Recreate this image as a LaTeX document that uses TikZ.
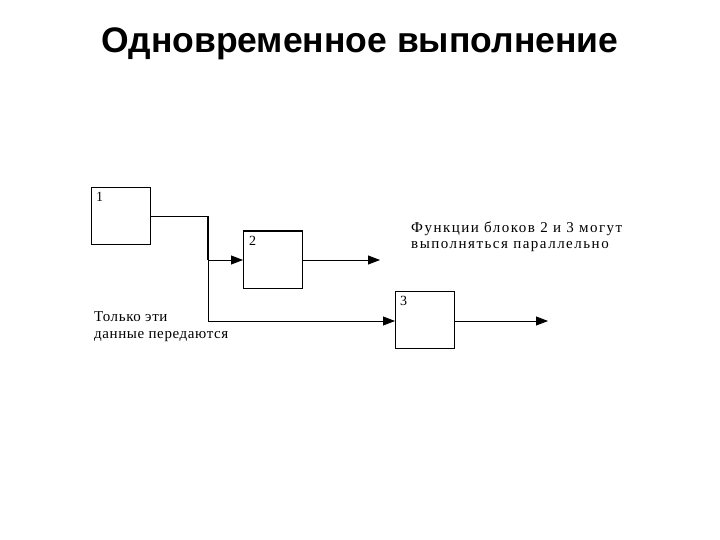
\documentclass[tikz,border=0pt]{standalone}
\usepackage{fontspec}
\setmainfont{Liberation Serif}
\newfontfamily\titlefont{Liberation Sans}
\usetikzlibrary{arrows.meta}
\begin{document}
\begin{tikzpicture}[x=1pt,y=-1pt,
  blk/.style={draw,line width=1pt,minimum width=59pt,minimum height=57pt,anchor=north west,inner sep=0pt},
  num/.style={font=\fontsize{14}{14}\selectfont,anchor=north west,inner sep=0pt},
  lbl/.style={anchor=north west,align=left,inner sep=0pt},
  conn/.style={line width=0.8pt},
  arr/.style={conn,-{Triangle[length=12pt,width=9pt]}}]
\useasboundingbox (0,0) rectangle (720,540);
\node[font=\titlefont\bfseries\fontsize{35.5}{38}\selectfont] (title) at (360,44) {Одновременное выполнение};
\node[blk] (b1) at (91,187) {};
\node[blk] (b2) at (243,231) {};
\node[blk] (b3) at (395,291) {};
\draw[line width=2pt] (b2.north west) -- (b2.north east);
\node[num] (n1) at (96,192) {1};
\node[num] (n2) at (249,236) {2};
\node[num] (n3) at (400,296) {3};
\coordinate (c1) at (208,216);
\coordinate (c2) at (208,260);
\coordinate (c3) at (208,321);
\coordinate (o2) at (380,260);
\coordinate (o3) at (548,321);
\draw[conn] (b1.east |- c1) -- (c1);
\draw[line width=2pt] (c1) -- (c2);
\draw[conn] (c2) -- (c3);
\draw[arr] (c2) -- (b2.west |- c2);
\draw[arr] (c3) -- (b3.west |- c3);
\draw[arr] (b2.east |- o2) -- (o2);
\draw[arr] (b3.east |- o3) -- (o3);
\node[lbl,font=\fontsize{15}{16}\selectfont\addfontfeatures{LetterSpace=10}] (t1) at (411,222) {Функции блоков 2 и 3 могут\\выполняться параллельно};
\node[lbl,font=\fontsize{15}{17}\selectfont\addfontfeatures{LetterSpace=4}] (t2) at (94,311) {Только эти\\данные передаются};
\end{tikzpicture}
\end{document}
